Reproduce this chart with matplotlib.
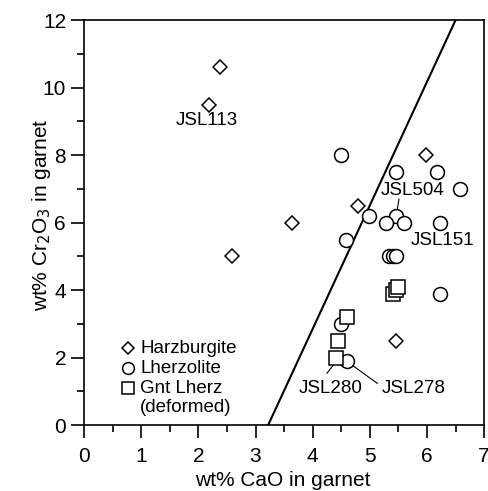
import matplotlib.pyplot as plt

plt.rcParams['font.family'] = ['Liberation Sans', 'DejaVu Sans']

# Harzburgite
harz_cao = [2.38, 2.19, 2.59, 3.64, 4.80, 5.99, 5.46]
harz_cr = [10.6, 9.5, 5.0, 6.0, 6.5, 8.0, 2.5]

# Lherzolite
lherz_cao = [4.50, 5.45, 6.18, 6.58, 4.99, 5.45, 5.29, 5.60, 6.23, 4.59,
             5.34, 5.40, 5.45, 6.23, 4.50, 4.60]
lherz_cr = [8.0, 7.5, 7.5, 7.0, 6.2, 6.2, 6.0, 6.0, 6.0, 5.5,
            5.0, 5.0, 5.0, 3.9, 3.0, 1.9]

# Gnt Lherz (deformed)
gnt_cao = [4.60, 4.45, 4.41, 5.40, 5.45, 5.50]
gnt_cr = [3.2, 2.5, 2.0, 3.9, 4.0, 4.1]

# dividing line
line_cao = [3.22, 6.5]
line_cr = [0, 12]

fig = plt.figure(figsize=(4.89, 4.91), dpi=100)
ax = fig.add_axes([0.172, 0.134, 0.818, 0.825])

mk = dict(linestyle='none', mfc='white', mec='black', mew=1.1)
ax.plot(line_cao, line_cr, color='black', lw=1.5)
ax.plot(harz_cao, harz_cr, marker='D', ms=7.5, **mk)
ax.plot(lherz_cao, lherz_cr, marker='o', ms=10, **mk, zorder=3)
ax.plot(gnt_cao, gnt_cr, marker='s', ms=9.5, **mk, zorder=4)

# sample labels
fs = 13.5
ax.text(2.15, 9.04, 'JSL113', fontsize=fs, ha='center', va='center')
ax.text(5.74, 6.96, 'JSL504', fontsize=fs, ha='center', va='center')
ax.plot([5.51, 5.48], [6.70, 6.37], color='black', lw=0.8)
ax.text(6.27, 5.48, 'JSL151', fontsize=fs, ha='center', va='center')
ax.text(4.31, 1.10, 'JSL280', fontsize=fs, ha='center', va='center')
ax.plot([4.25, 4.39], [1.54, 1.84], color='black', lw=0.8)
ax.text(5.76, 1.10, 'JSL278', fontsize=fs, ha='center', va='center')
ax.plot([5.13, 4.69], [1.24, 1.78], color='black', lw=0.8)

# legend
leg = [('D', 6, 'Harzburgite', 0.19), ('o', 8.5, 'Lherzolite', 0.141),
       ('s', 8, 'Gnt Lherz', 0.091)]
for m, s, lab, yy in leg:
    ax.plot([0.11], [yy], marker=m, ms=s, transform=ax.transAxes, **mk)
    ax.text(0.14, yy, lab, fontsize=13.5, va='center', transform=ax.transAxes)
ax.text(0.14, 0.044, '(deformed)', fontsize=13.5, va='center', transform=ax.transAxes)

ax.set_xlim(0, 7)
ax.set_ylim(0, 12)
ax.set_xticks(range(0, 8))
ax.set_yticks(range(0, 13, 2))
ax.set_xticks([i + 0.5 for i in range(7)], minor=True)
ax.set_yticks(range(1, 12, 2), minor=True)
ax.tick_params(which='both', direction='out', labelsize=15, width=1.2)
ax.tick_params(which='major', length=9.5)
ax.tick_params(which='minor', length=5)
ax.tick_params(axis='x', which='major', pad=6)
for sp in ax.spines.values():
    sp.set_linewidth(1.2)
ax.set_xlabel('wt% CaO in garnet', fontsize=15)
ax.set_ylabel('wt% Cr$_2$O$_3$ in garnet', fontsize=15)
ax.xaxis.set_label_coords(0.497, -0.112)
ax.yaxis.set_label_coords(-0.078, 0.52)

fig.savefig('out.png', dpi=100)
